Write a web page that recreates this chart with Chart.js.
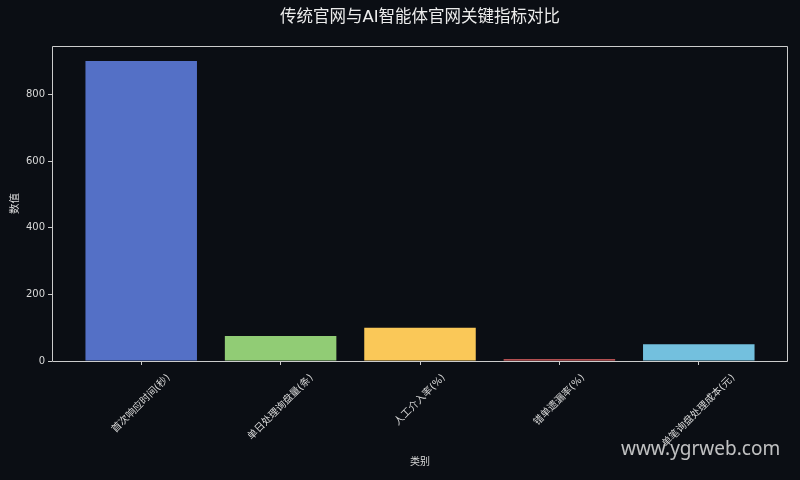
<!DOCTYPE html>
<html>
<head>
<meta charset="utf-8">
<script src="https://cdn.jsdelivr.net/npm/chart.js@4.4.0/dist/chart.umd.min.js"></script>
<style>
  html, body { margin: 0; padding: 0; background: #0b0e14; }
  #wrap { width: 800px; height: 480px; }
</style>
</head>
<body>
<div id="wrap"><canvas id="chart" width="800" height="480"></canvas></div>
<script>
// données
const categories = ['首次响应时间(秒)', '单日处理询盘量(条)', '人工介入率(%)', '错单遗漏率(%)', '单笔询盘处理成本(元)'];
const values = [900, 75, 100, 5, 50];
const barColors = ['#5470c6', '#91cc75', '#fac858', '#ee6666', '#73c0de'];
const yTicks = [0, 200, 400, 600, 800];
const chartTitle = '传统官网与AI智能体官网关键指标对比';

const FONT = '"DejaVu Sans", "Noto Sans CJK SC", sans-serif';
const TEXT = '#d9d9d9';
const AXIS = '#cccccc';

// fond, cadre, titre et étiquettes inclinées (centrées comme matplotlib)
const decor = {
    id: 'decor',
    beforeDraw(chart) {
        const ctx = chart.ctx;
        ctx.save();
        ctx.fillStyle = '#0b0e14';
        ctx.fillRect(0, 0, chart.width, chart.height);
        ctx.restore();
    },
    afterDraw(chart) {
        const ctx = chart.ctx;
        const a = chart.chartArea;
        const x = chart.scales.x;
        ctx.save();
        // cadre : l'axe du bas passe sous la base des barres
        const l = Math.round(a.left) + 0.5, r = Math.round(a.right) - 0.5;
        const t = Math.round(a.top) + 0.5, b = Math.round(a.bottom) + 0.5;
        ctx.strokeStyle = AXIS;
        ctx.lineWidth = 1;
        ctx.beginPath();
        ctx.moveTo(l, t); ctx.lineTo(r, t); ctx.lineTo(r, b); ctx.lineTo(l, b); ctx.closePath();
        ctx.stroke();

        // titre centré sur la zone du graphique
        ctx.font = '16.5px ' + FONT;
        ctx.fillStyle = '#ececec';
        ctx.textAlign = 'center';
        ctx.textBaseline = 'middle';
        ctx.fillText(chartTitle, (a.left + a.right) / 2, 18);

        ctx.font = '10px ' + FONT;
        ctx.fillStyle = TEXT;
        categories.forEach(function(label, i) {
            const w = ctx.measureText(label).width;
            const h = 12;
            const half = (w + h) / (2 * Math.SQRT2);
            const cx = x.getPixelForValue(i);
            const cy = a.bottom + 11 + half;
            ctx.save();
            ctx.translate(cx, cy);
            ctx.rotate(-Math.PI / 4);
            ctx.fillText(label, 0, 0);
            ctx.restore();
        });

        // filigrane
        ctx.font = '19px "Noto Sans", sans-serif';
        ctx.fillStyle = 'rgba(225,225,225,0.85)';
        ctx.textAlign = 'left';
        ctx.textBaseline = 'alphabetic';
        ctx.fillText('www.ygrweb.com', 621, 455);
        ctx.restore();
    }
};

new Chart(document.getElementById('chart'), {
    type: 'bar',
    data: {
        datasets: [{
            label: '数值',
            data: categories.map((c, i) => ({ x: i, y: values[i] })),
            backgroundColor: barColors,
            borderWidth: 0,
            categoryPercentage: 1,
            barPercentage: 0.8
        }]
    },
    options: {
        responsive: false,
        animation: false,
        layout: { padding: { left: 0, right: 12, top: 46, bottom: 0 } },
        scales: {
            x: {
                type: 'linear',
                offset: false,
                min: -0.64,
                max: 4.64,
                afterFit: s => { s.height = 119; },
                ticks: { display: false, stepSize: 1, includeBounds: false },
                grid: { offset: false, drawOnChartArea: false, drawTicks: true, tickLength: 4, color: AXIS },
                border: { display: false },
                title: {
                    display: true,
                    text: '类别',
                    color: TEXT,
                    font: { family: FONT, size: 10 },
                    padding: { top: 0, bottom: 12 }
                }
            },
            y: {
                min: 0,
                max: 945,
                afterFit: s => { s.width = 52; },
                afterBuildTicks: s => { s.ticks = yTicks.map(v => ({ value: v })); },
                ticks: { color: TEXT, font: { family: FONT, size: 10 }, padding: 3 },
                grid: { drawOnChartArea: false, drawTicks: true, tickLength: 4, color: AXIS },
                border: { display: false },
                title: {
                    display: true,
                    text: '数值',
                    color: TEXT,
                    font: { family: FONT, size: 10.5 },
                    padding: { top: 9, bottom: 0 }
                }
            }
        },
        plugins: {
            legend: { display: false },
            tooltip: { enabled: false },
            title: { display: false }
        }
    },
    plugins: [decor]
});
</script>
</body>
</html>
